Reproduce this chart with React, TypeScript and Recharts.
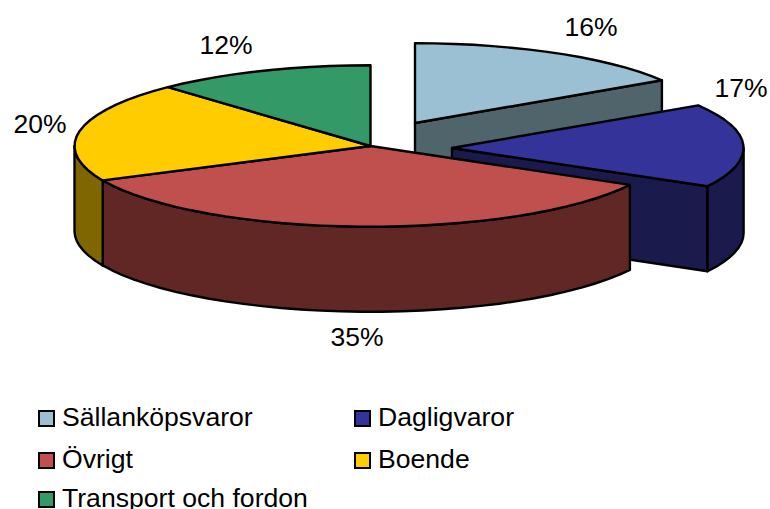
import * as React from "react"
import { Legend, Pie, PieChart } from "recharts"

const categories = ["Sällanköpsvaror", "Dagligvaror", "Övrigt", "Boende", "Transport och fordon"]
const shares = [16, 17, 35, 20, 12]
const topColors = ["#9BC0D3", "#333399", "#C0504D", "#FFCC00", "#339966"]
const wallColors = ["#50646C", "#1A1A4D", "#602725", "#806600", "#1A4D33"]
// how far the exploded slices are pulled out of the pie, plus their perspective shrink
const explode = [[44.5, -23, 0.988], [81.5, 2, 0.985], [0, 0, 1], [0, 0, 1], [0, 0, 1]]
const labelSpots = [[591, 27], [741, 88], [357, 337], [40, 124], [226, 45]]

const data = categories.map((name, i) => ({ name, value: shares[i], fill: topColors[i] }))

const TILT = 81 / 297
const DEPTH = 85
const RAD = Math.PI / 180

function arcPoints(x: number, y: number, r: number, from: number, to: number) {
  const pts: [number, number][] = []
  const steps = Math.max(1, Math.ceil(Math.abs(to - from) / 4))
  for (let s = 0; s <= steps; s++) {
    const a = (from + ((to - from) * s) / steps) * RAD
    pts.push([x + r * Math.cos(a), y - r * TILT * Math.sin(a)])
  }
  return pts
}

const toPath = (pts: [number, number][]) =>
  "M" + pts.map((p) => p[0].toFixed(1) + " " + p[1].toFixed(1)).join("L") + "Z"

function Slice3D(props: any) {
  const { cx, cy, outerRadius, startAngle, endAngle, index } = props
  const [dx, dy, shrink] = explode[index]
  const x = cx + dx
  const y = cy + dy
  const r = outerRadius * shrink
  const wall = wallColors[index]
  const top = [[x, y] as [number, number], ...arcPoints(x, y, r, startAngle, endAngle)]

  // outer wall: only the front half of the rim faces the viewer
  const lo = Math.max(endAngle, -180)
  const hi = Math.min(startAngle, 0)
  const rim = lo < hi ? arcPoints(x, y, r, hi, lo) : []
  const rimWall = [...rim, ...[...rim].reverse().map((p) => [p[0], p[1] + DEPTH] as [number, number])]

  // cut face, only where the slice is pulled away from its neighbours
  const endPt = arcPoints(x, y, r, endAngle, endAngle)[0]
  const showCut = (dx !== 0 || dy !== 0) && Math.cos(endAngle * RAD) > 0
  const cut: [number, number][] = [[x, y], endPt, [endPt[0], endPt[1] + DEPTH], [x, y + DEPTH]]

  return (
    <g stroke="#000" strokeWidth={2.4} strokeLinejoin="round">
      {showCut && <path d={toPath(cut)} fill={wall} />}
      {rim.length > 0 && <path d={toPath(rimWall)} fill={wall} />}
      <path d={toPath(top)} fill={topColors[index]} />
    </g>
  )
}

function percentLabel(props: any) {
  const i = props.index
  return (
    <text
      x={labelSpots[i][0]}
      y={labelSpots[i][1]}
      textAnchor="middle"
      dominantBaseline="central"
      fontFamily="Liberation Sans"
      fontSize={26.5}
      fill="#000"
    >
      {Math.round(props.percent * 100)}%
    </text>
  )
}

function LegendGrid({ payload }: any) {
  const baselines = [426, 468, 507]
  return (
    <div>
      {(payload || []).map((item: any, i: number) => {
        const left = i % 2 === 0 ? 38 : 354
        const base = baselines[Math.floor(i / 2)]
        return (
          <div key={item.value} style={{ position: "absolute", left, top: base - 24, height: 30, whiteSpace: "nowrap" }}>
            <span
              style={{
                position: "absolute",
                left: 0,
                top: 8,
                width: 13,
                height: 13,
                background: topColors[i],
                border: "2px solid #000",
                boxSizing: "content-box",
              }}
            />
            <span
              style={{
                position: "absolute",
                left: 24,
                top: 0,
                lineHeight: "30px",
                fontFamily: "Liberation Sans",
                fontSize: 26.6,
                color: "#000",
              }}
            >
              {item.value}
            </span>
          </div>
        )
      })}
    </div>
  )
}

export default function App() {
  React.useEffect(() => {
    document.body.style.margin = "0"
  }, [])
  return (
    <div style={{ position: "absolute", left: 0, top: 0, width: 770, height: 509, overflow: "hidden", background: "#fff" }}>
      <PieChart width={770} height={509} margin={{ top: 0, right: 0, bottom: 0, left: 0 }}>
        <Pie
          data={data}
          dataKey="value"
          nameKey="name"
          cx={370.5}
          cy={146}
          innerRadius={0}
          outerRadius={296}
          startAngle={90}
          endAngle={-270}
          stroke="#000"
          shape={Slice3D}
          inactiveShape={Slice3D}
          activeShape={Slice3D}
          label={percentLabel}
          labelLine={false}
          isAnimationActive={false}
        />
        <Legend
          itemSorter={null}
          content={<LegendGrid />}
          wrapperStyle={{ position: "absolute", left: 0, top: 0, width: 770, height: 509 }}
        />
      </PieChart>
    </div>
  )
}
